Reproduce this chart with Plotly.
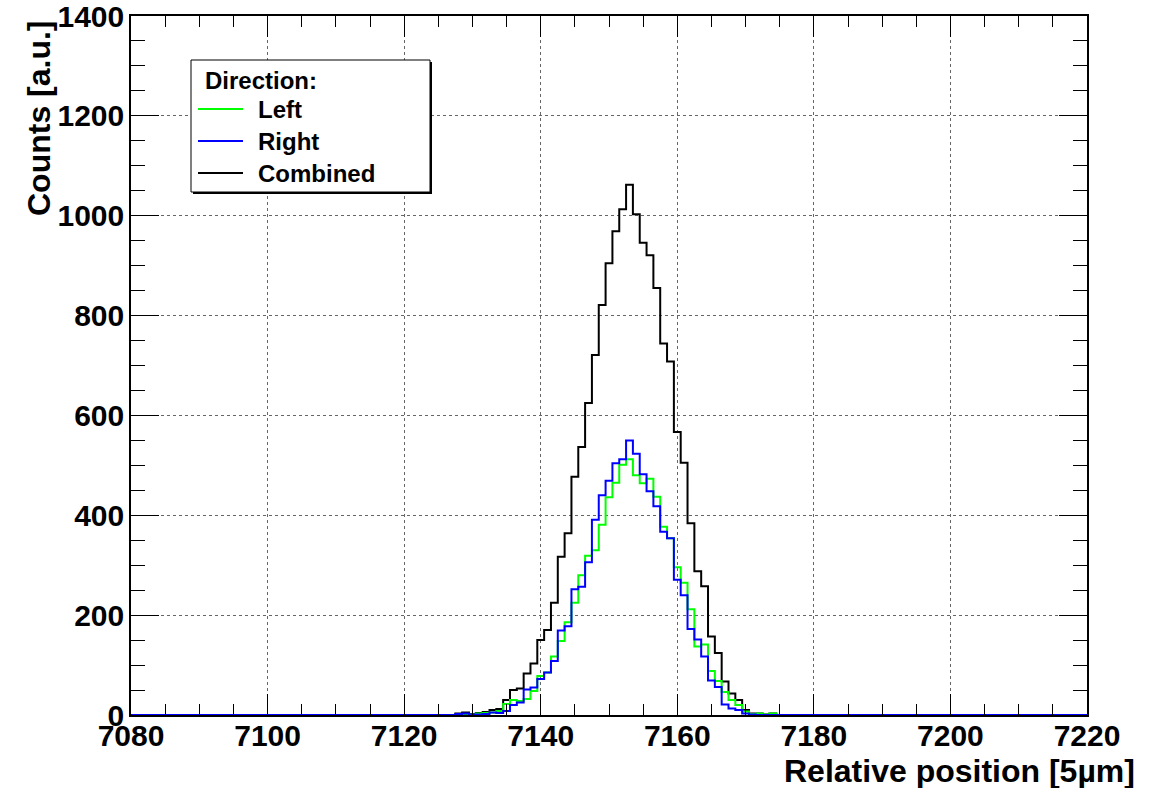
import numpy as np
import plotly.graph_objects as go

# Histogram bins (bin centres, width 1) that hold entries
bins = list(range(7127, 7176))

left = [0, 1, 2, 1, 3, 4, 5, 8, 22, 30, 28, 32, 48, 78, 85, 117, 148, 186, 225, 280,
        319, 330, 381, 436, 465, 501, 512, 480, 464, 473, 437, 377, 354, 296, 265, 212,
        137, 141, 88, 68, 46, 30, 20, 7, 2, 3, 1, 3, 0]
right = [0, 2, 3, 1, 1, 2, 5, 4, 8, 20, 25, 51, 55, 72, 85, 108, 169, 178, 252, 257,
         306, 391, 440, 469, 504, 512, 550, 523, 482, 448, 418, 367, 354, 271, 240, 172,
         151, 117, 69, 56, 21, 13, 10, 3, 1, 0, 0, 0, 0]
combined = [0, 3, 5, 2, 4, 6, 10, 12, 30, 50, 53, 83, 103, 150, 170, 225, 317, 364, 477, 537,
            625, 721, 821, 905, 969, 1013, 1062, 1003, 946, 921, 855, 744, 708, 567, 505, 384,
            288, 258, 157, 124, 67, 43, 30, 10, 3, 3, 1, 3, 0]

x_ticks = [7080, 7100, 7120, 7140, 7160, 7180, 7200, 7220]
y_ticks = [0, 200, 400, 600, 800, 1000, 1200, 1400]

# full axis range, empty bins everywhere else
full_x = np.arange(7080, 7221)


def full_hist(values):
    h = np.zeros(len(full_x))
    h[np.searchsorted(full_x, bins)] = values
    return h


W, H = 1168, 788
L, R, T, B = 131, 81, 16, 73
PW, PH = W - L - R, H - T - B


def px(xp):
    return (xp - L) / PW


def py(yp):
    return (H - B - yp) / PH


FONT = "Liberation Sans, Arial, sans-serif"
GREEN, BLUE, BLACK = "#00ff00", "#0000ff", "#000000"

fig = go.Figure()
series = [("Combined", combined, BLACK), ("Left", left, GREEN), ("Right", right, BLUE)]
for name, vals, col in series:
    fig.add_trace(go.Scatter(
        x=full_x, y=full_hist(vals), mode="lines", name=name,
        line=dict(color=col, width=2, shape="hvh"), showlegend=False,
        hovertemplate="%{x}: %{y}<extra>" + name + "</extra>",
    ))

axis_common = dict(
    showline=True, linecolor="black", linewidth=1.5, mirror="ticks",
    ticks="inside", tickcolor="black", tickwidth=1,
    showgrid=True, gridcolor="#666666", griddash="dot", gridwidth=1,
    zeroline=False, automargin=False, ticklabeloverflow="allow",
    tickfont=dict(family=FONT, size=30, color="black", weight="bold"),
)

fig.update_xaxes(
    range=[7080, 7220], tickvals=x_ticks, ticklen=21, ticklabelstandoff=-7,
    minor=dict(dtick=5, tick0=7080, ticklen=11, ticks="inside", tickcolor="black", showgrid=False),
    **axis_common,
)
fig.update_yaxes(
    range=[0, 1400], tickvals=y_ticks, ticklen=28, ticklabelstandoff=-1,
    minor=dict(dtick=50, tick0=0, ticklen=14, ticks="inside", tickcolor="black", showgrid=False),
    **axis_common,
)

annotations = [
    dict(text="<b>Relative position [5µm]</b>", xref="paper", yref="paper",
         x=px(1137), y=py(771), xanchor="right", yanchor="middle", showarrow=False,
         font=dict(family=FONT, size=32, color="black")),
    dict(text="<b>Counts [a.u.]</b>", xref="paper", yref="paper",
         x=px(39), y=py(118), xanchor="center", yanchor="middle", textangle=-90, showarrow=False,
         font=dict(family=FONT, size=32, color="black")),
]

# legend box with drop shadow
shapes = [
    dict(type="rect", xref="paper", yref="paper", x0=px(193), x1=px(432), y0=py(194), y1=py(62),
         fillcolor="#000000", line=dict(width=0), layer="above"),
    dict(type="rect", xref="paper", yref="paper", x0=px(191), x1=px(430), y0=py(192), y1=py(60),
         fillcolor="white", line=dict(color="black", width=1), layer="above"),
]
annotations.append(dict(text="<b>Direction:</b>", xref="paper", yref="paper", x=px(203), y=py(80),
                        xanchor="left", yanchor="middle", showarrow=False,
                        font=dict(family=FONT, size=24, color="black")))
for (name, col), yl in zip([("Left", GREEN), ("Right", BLUE), ("Combined", BLACK)],
                           [109, 141, 173]):
    shapes.append(dict(type="line", xref="paper", yref="paper", x0=px(198), x1=px(243),
                       y0=py(yl), y1=py(yl), line=dict(color=col, width=2), layer="above"))
    annotations.append(dict(text="<b>" + name + "</b>", xref="paper", yref="paper", x=px(256),
                            y=py(yl), xanchor="left", yanchor="middle", showarrow=False,
                            font=dict(family=FONT, size=24, color="black")))

fig.update_layout(
    width=W, height=H, margin=dict(l=L, r=R, t=T, b=B),
    paper_bgcolor="white", plot_bgcolor="white",
    shapes=shapes, annotations=annotations, showlegend=False,
)

fig.write_html("out.html")
